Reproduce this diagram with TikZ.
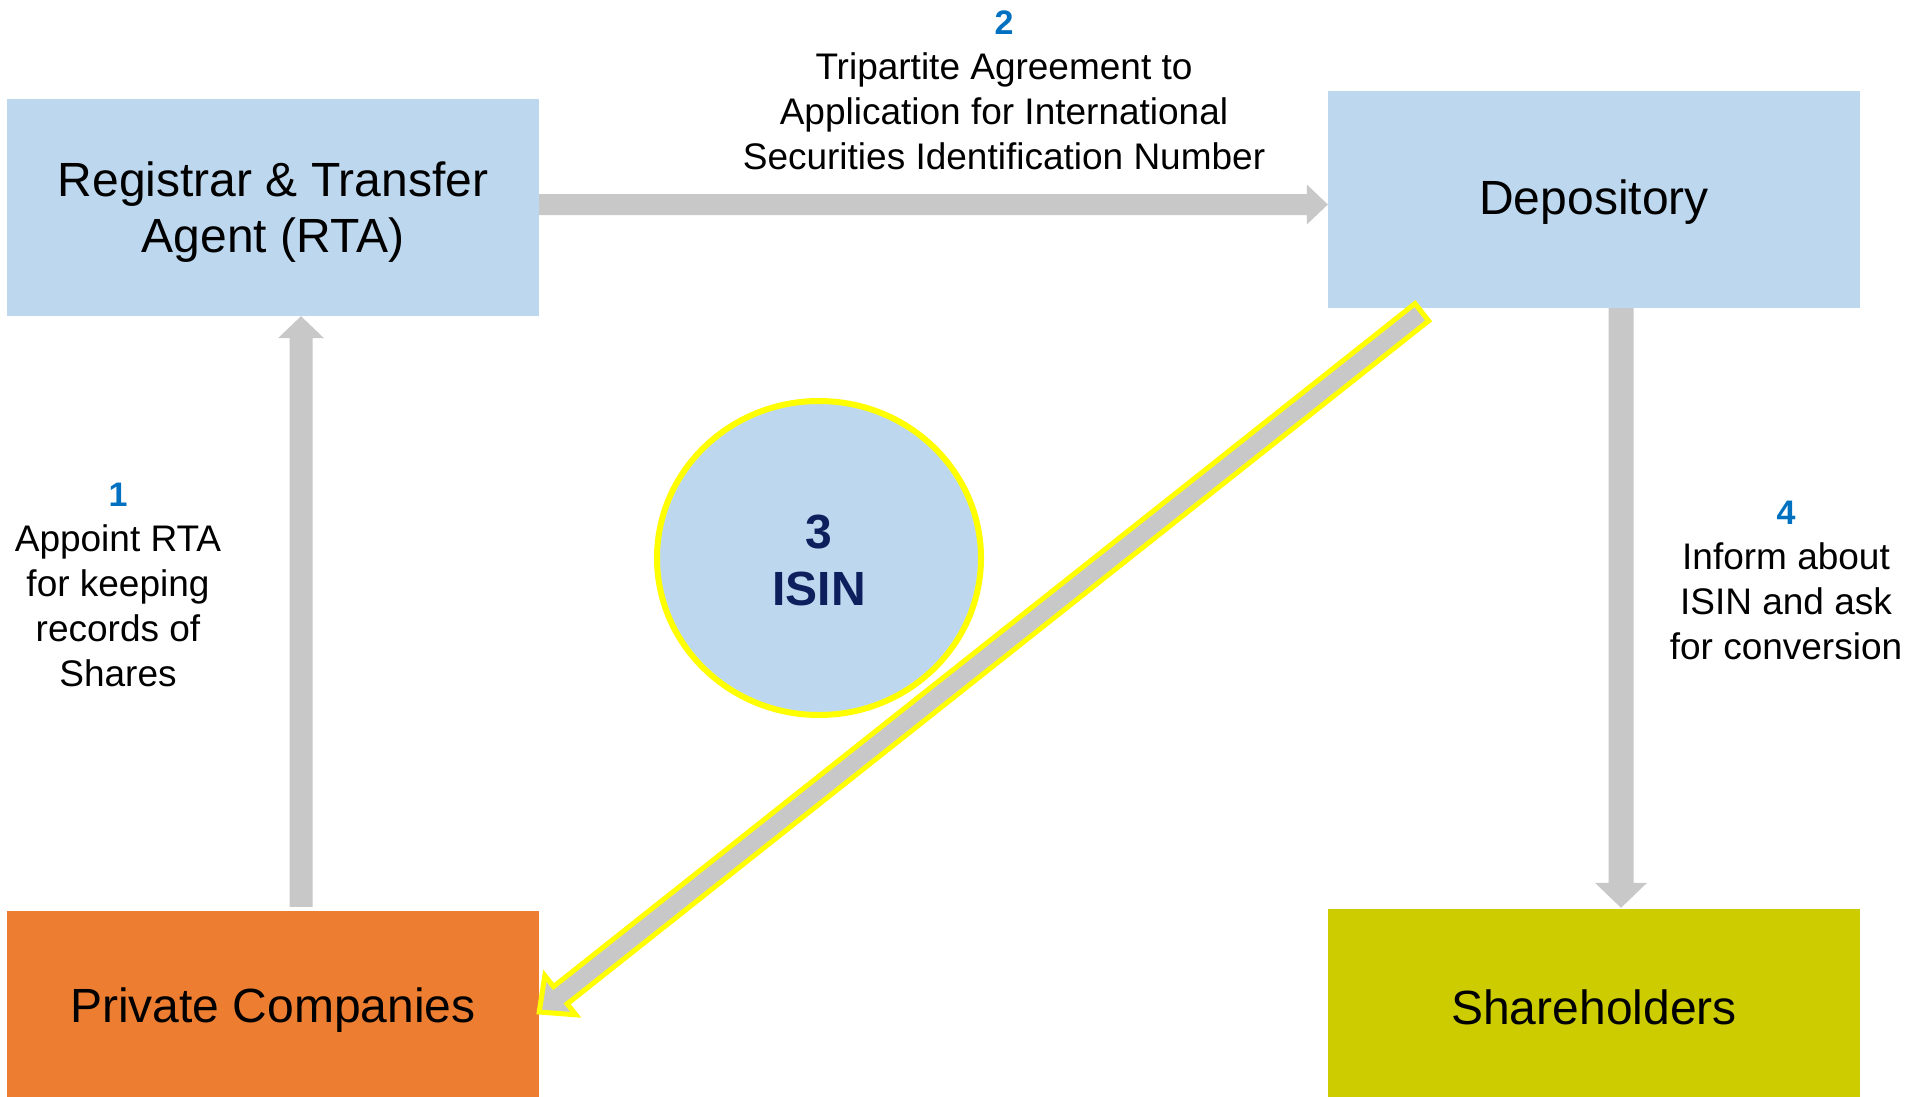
\documentclass[tikz,border=0pt]{standalone}
\usepackage{fontspec}
\setmainfont{Liberation Sans}
\usetikzlibrary{calc,shapes.geometric}
\definecolor{boxblue}{HTML}{BDD7EE}
\definecolor{pcorange}{HTML}{ED7D31}
\definecolor{sholive}{HTML}{CCCC00}
\definecolor{arrowgray}{HTML}{C8C8C8}
\definecolor{numblue}{HTML}{0070C0}
\definecolor{isinnavy}{HTML}{0D1F5C}
\definecolor{hiyellow}{HTML}{FFFF00}
% block arrow: #1 style, #2 tail, #3 tip, #4 half shaft, #5 half head, #6 head length
\newcommand{\blockarr}[6]{%
  \coordinate (ba-h) at ($(#3)!#6!(#2)$);
  \path[#1] ($(#2)!#4!90:(#3)$) -- ($(ba-h)!#4!90:(#3)$) -- ($(ba-h)!#5!90:(#3)$)
    -- (#3) -- ($(ba-h)!#5!-90:(#3)$) -- ($(ba-h)!#4!-90:(#3)$)
    -- ($(#2)!#4!-90:(#3)$) -- cycle;}
\begin{document}
\begin{tikzpicture}[x=1pt,y=-1pt,
  box/.style={rectangle, inner sep=0pt, minimum width=532pt},
  boxtext/.style={inner sep=0pt, align=center, font=\fontsize{48}{56}\selectfont, text=black},
  lbl/.style={align=center, inner sep=0pt, font=\fontsize{37}{45}\selectfont, text=black},
  grayarrow/.style={fill=arrowgray},
  hiarrow/.style={fill=arrowgray, draw=hiyellow, line width=5pt, line join=miter}]
\path[use as bounding box, clip] (0,0) rectangle (1920,1096);
\fill[white] (0,0) rectangle (1920,1096);

% boxes
\node[box, fill=boxblue, minimum height=217pt] (rta) at (273,207.5) {};
\node[box, fill=boxblue, minimum height=217pt] (dep) at (1594,199.5) {};
\node[box, fill=pcorange, minimum height=188pt] (pc) at (273,1005) {};
\node[box, fill=sholive, minimum height=200pt] (sh) at (1594,1009) {};
\node[boxtext] (rtaT) at ($(rta.center)+(0,5)$) {Registrar \& Transfer\\Agent (RTA)};
\node[boxtext] (depT) at ($(dep.center)+(0,3)$) {Depository};
\node[boxtext] (pcT) at ($(pc.center)+(0,5)$) {Private Companies};
\node[boxtext] (shT) at ($(sh.center)+(0,-1.5)$) {Shareholders};

% ISIN circle
\node[ellipse, fill=boxblue, draw=hiyellow, line width=6pt, minimum width=324pt,
  minimum height=314pt, inner sep=0pt] (isin) at (819,558) {};
\node[inner sep=0pt, align=center, text=isinnavy,
  font=\fontsize{48}{57}\selectfont\bfseries] (isinT) at ($(isin.center)+(0,2)$) {3\\ISIN};

% connectors
\coordinate (a1s) at ($(pc.north)+(28,-4)$);
\coordinate (a1t) at ($(rta.south)+(28,0)$);
\blockarr{grayarrow}{a1s}{a1t}{11.5pt}{23pt}{22pt}

\coordinate (a2s) at ($(rta.east)+(0,-3)$);
\coordinate (a2t) at ($(dep.west)+(0,5)$);
\blockarr{grayarrow}{a2s}{a2t}{10.5pt}{20pt}{21pt}

\coordinate (a4s) at ($(dep.south)+(27,0)$);
\coordinate (a4t) at ($(sh.north)+(27,-1)$);
\blockarr{grayarrow}{a4s}{a4t}{12.5pt}{26pt}{25pt}

\coordinate (a3s) at ($(dep.south west)+(94,4)$);
\coordinate (a3t) at ($(pc.east)+(0,7)$);
\blockarr{hiarrow}{a3s}{a3t}{11pt}{25pt}{27pt}

% labels
\node[lbl] (l1) at (118,585) {{\fontsize{34}{45}\selectfont\bfseries\color{numblue}1}\\Appoint RTA\\for keeping\\records of\\Shares};
\node[lbl] (l2) at (1004,90) {{\fontsize{34}{45}\selectfont\bfseries\color{numblue}2}\\Tripartite Agreement to\\Application for International\\Securities Identification Number};
\node[lbl] (l4) at (1786,580) {{\fontsize{34}{45}\selectfont\bfseries\color{numblue}4}\\Inform about\\ISIN and ask\\for conversion};
\end{tikzpicture}
\end{document}
